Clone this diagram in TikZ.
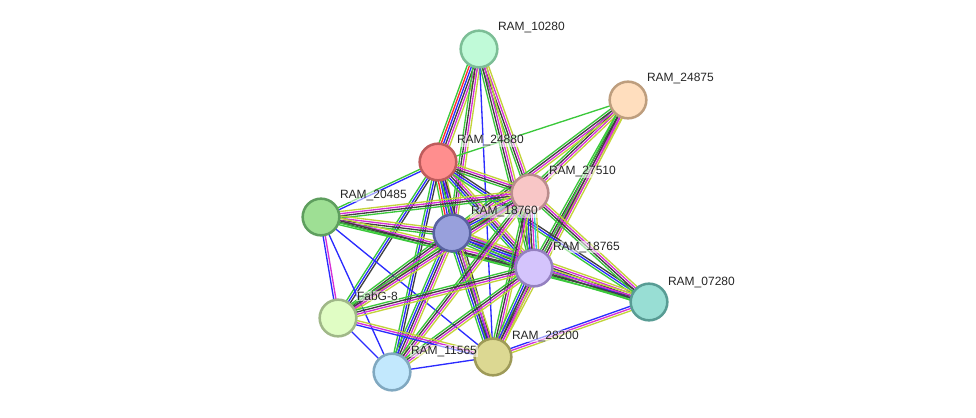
\documentclass[tikz,border=0pt]{standalone}
\usepackage{fontspec}
\setmainfont{Liberation Sans}
\usetikzlibrary{calc}
\pgfdeclarelayer{bg}
\pgfsetlayers{bg,main}
\definecolor{cNb}{HTML}{3BC83B}
\definecolor{cFu}{HTML}{FF2A2A}
\definecolor{cCo}{HTML}{2B2BFF}
\definecolor{cCe}{HTML}{404040}
\definecolor{cEx}{HTML}{D62FD6}
\definecolor{cDb}{HTML}{2BC8D8}
\definecolor{cTm}{HTML}{C3D33A}
\tikzset{
  prot/.style={circle,minimum size=27.5pt,inner sep=0pt,line width=1.9pt},
  plabel/.style={anchor=west,font=\fontsize{9}{10}\selectfont,text=black!85,inner sep=0.6pt,fill=white,fill opacity=0.55,text opacity=1},
  evline/.style={line width=1pt}
}
\newcommand\bund[4]{%
  \foreach \cc [count=\i] in {#4} {%
    \pgfmathsetmacro\off{(\i-(#3+1)/2)*1.65}%
    \draw[evline,\cc] ($(#1)!\off pt!90:(#2)$) -- ($(#2)!\off pt!-90:(#1)$);%
  }%
}
\begin{document}
\begin{tikzpicture}[x=0.75pt,y=-0.75pt]
\useasboundingbox (0,0) rectangle (976,418);
% nodes
\node[prot,fill={rgb,255:red,192;green,250;blue,216},draw={rgb,255:red,124;green,190;blue,150}] (A) at (479,49) {};
\node[prot,fill={rgb,255:red,255;green,222;blue,190},draw={rgb,255:red,190;green,158;blue,126}] (B) at (628,100) {};
\node[prot,fill={rgb,255:red,255;green,142;blue,142},draw={rgb,255:red,190;green,92;blue,92}] (C) at (438,162) {};
\node[prot,fill={rgb,255:red,248;green,198;blue,198},draw={rgb,255:red,186;green,140;blue,140}] (D) at (530,193) {};
\node[prot,fill={rgb,255:red,158;green,223;blue,148},draw={rgb,255:red,94;green,158;blue,94}] (E) at (321,217) {};
\node[prot,fill={rgb,255:red,152;green,160;blue,220},draw={rgb,255:red,88;green,98;blue,160}] (F) at (452,233) {};
\node[prot,fill={rgb,255:red,212;green,196;blue,252},draw={rgb,255:red,148;green,128;blue,192}] (G) at (534,268) {};
\node[prot,fill={rgb,255:red,152;green,222;blue,212},draw={rgb,255:red,88;green,156;blue,148}] (H) at (649,302) {};
\node[prot,fill={rgb,255:red,224;green,253;blue,196},draw={rgb,255:red,160;green,184;blue,136}] (I) at (338,318) {};
\node[prot,fill={rgb,255:red,194;green,232;blue,253},draw={rgb,255:red,128;green,168;blue,192}] (J) at (392,372) {};
\node[prot,fill={rgb,255:red,220;green,216;blue,146},draw={rgb,255:red,158;green,154;blue,88}] (K) at (493,357) {};
% labels
\node[plabel] (lA) at (497,28) {RAM\_10280};
\node[plabel] (lB) at (646,79) {RAM\_24875};
\node[plabel] (lC) at (456,141) {RAM\_24880};
\node[plabel] (lD) at (548,172) {RAM\_27510};
\node[plabel] (lE) at (339,196) {RAM\_20485};
\node[plabel] (lF) at (470,212) {RAM\_18760};
\node[plabel] (lG) at (552,247) {RAM\_18765};
\node[plabel] (lH) at (667,282) {RAM\_07280};
\node[plabel] (lI) at (356,296) {FabG-8};
\node[plabel] (lJ) at (410,351) {RAM\_11565};
\node[plabel] (lK) at (511,336) {RAM\_28200};
\begin{pgfonlayer}{bg}
\bund{A}{C}{6}{cNb,cFu,cCo,cCe,cEx,cTm}
\bund{A}{F}{4}{cNb,cCe,cEx,cTm}
\bund{A}{D}{4}{cNb,cCe,cEx,cTm}
\bund{A}{G}{4}{cNb,cCe,cEx,cTm}
\bund{A}{K}{1}{cCo}
\bund{B}{C}{1}{cNb}
\bund{B}{D}{4}{cNb,cCe,cEx,cTm}
\bund{B}{F}{4}{cNb,cCe,cEx,cTm}
\bund{B}{G}{4}{cNb,cCe,cEx,cTm}
\bund{B}{K}{4}{cNb,cCe,cEx,cTm}
\bund{C}{E}{2}{cNb,cCo}
\bund{C}{F}{6}{cNb,cFu,cCo,cCe,cEx,cTm}
\bund{C}{D}{4}{cNb,cCe,cEx,cTm}
\bund{C}{G}{5}{cNb,cCo,cCe,cEx,cTm}
\bund{C}{H}{3}{cNb,cCo,cCe}
\bund{C}{K}{3}{cNb,cCo,cCe}
\bund{C}{J}{3}{cNb,cCo,cCe}
\bund{C}{I}{3}{cNb,cCo,cCe}
\bund{E}{D}{4}{cNb,cCe,cEx,cTm}
\bund{E}{F}{4}{cNb,cCe,cEx,cTm}
\bund{E}{G}{4}{cNb,cCe,cEx,cTm}
\bund{E}{H}{2}{cNb,cCe}
\bund{E}{I}{2}{cCo,cEx}
\bund{E}{J}{1}{cCo}
\bund{E}{K}{1}{cCo}
\bund{F}{D}{6}{cNb,cFu,cCo,cCe,cEx,cTm}
\bund{F}{G}{6}{cNb,cCo,cCe,cEx,cDb,cTm}
\bund{F}{H}{5}{cNb,cCo,cCe,cEx,cTm}
\bund{F}{I}{4}{cNb,cCe,cEx,cTm}
\bund{F}{J}{5}{cNb,cCo,cCe,cEx,cTm}
\bund{F}{K}{5}{cNb,cCo,cCe,cEx,cTm}
\bund{D}{G}{6}{cNb,cCo,cCe,cEx,cDb,cTm}
\bund{D}{H}{4}{cNb,cCe,cEx,cTm}
\bund{D}{I}{4}{cNb,cCe,cEx,cTm}
\bund{D}{J}{4}{cNb,cCe,cEx,cTm}
\bund{D}{K}{4}{cNb,cCe,cEx,cTm}
\bund{G}{H}{4}{cNb,cCe,cEx,cTm}
\bund{G}{I}{4}{cNb,cCe,cEx,cTm}
\bund{G}{J}{4}{cNb,cCe,cEx,cTm}
\bund{G}{K}{5}{cNb,cCo,cCe,cEx,cTm}
\bund{H}{K}{3}{cCo,cEx,cTm}
\bund{I}{J}{1}{cCo}
\bund{I}{K}{3}{cCo,cEx,cTm}
\bund{J}{K}{1}{cCo}
\end{pgfonlayer}
\end{tikzpicture}
\end{document}
